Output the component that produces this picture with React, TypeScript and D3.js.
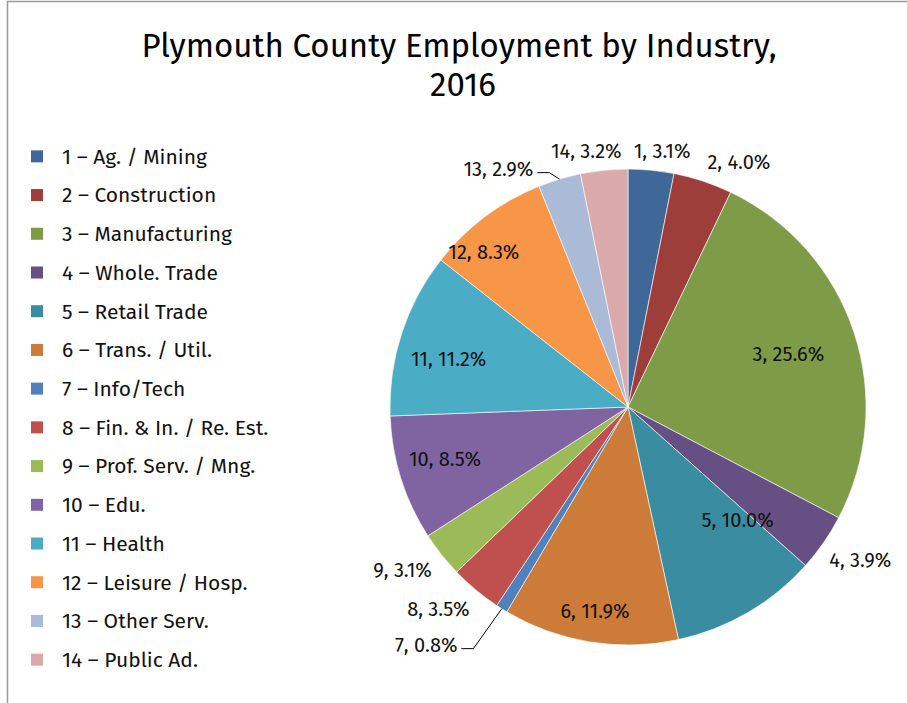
import * as d3 from "d3";
import { useRef, useEffect } from "react";

// industry codes, names and shares (percent)
const codes = ["1", "2", "3", "4", "5", "6", "7", "8", "9", "10", "11", "12", "13", "14"];
const names = [
  "Ag. / Mining",
  "Construction",
  "Manufacturing",
  "Whole. Trade",
  "Retail Trade",
  "Trans. / Util.",
  "Info/Tech",
  "Fin. & In. / Re. Est.",
  "Prof. Serv. / Mng.",
  "Edu.",
  "Health",
  "Leisure / Hosp.",
  "Other Serv.",
  "Public Ad.",
];
const shares = [3.1, 4.0, 25.6, 3.9, 10.0, 11.9, 0.8, 3.5, 3.1, 8.5, 11.2, 8.3, 2.9, 3.2];

const colors = [
  "#3F6797", "#9E3E3B", "#7E9B48", "#664F83", "#3A8CA0", "#CC7B38", "#4F81BD",
  "#C0504D", "#9BBB59", "#8064A2", "#4BACC6", "#F79646", "#AABAD7", "#D9AAA9",
];

// label placement: radius factor and angle shift (deg) off the slice middle
const labelRadius = [1.085, 1.13, 0.71, 1.17, 0.66, 0.87, 1.31, 1.165, 1.17, 0.8, 0.78, 0.89, 1.14, 1.09];
const labelShift = [2, 6, 0, -1.3, -14, 0, 8.3, 3.4, 2.4, 1.5, -3, -6, -11.8, -3.5];
const leaders = ["7", "13"];

const width = 907;
const height = 703;
const cx = 628;
const cy = 407;
const radius = 238;
const font = "'Fira Sans', 'Open Sans', 'Noto Sans', sans-serif";

const App = () => {
  const ref = useRef(null);

  useEffect(() => {
    const svg = d3.select(ref.current);
    svg.selectAll("*").remove();

    // chart frame
    svg.append("rect")
      .attr("x", 7.5).attr("y", 1.5)
      .attr("width", width + 10).attr("height", height + 10)
      .attr("fill", "white").attr("stroke", "#9a9a9a").attr("stroke-width", 1.5);

    // title
    const title = svg.append("text")
      .attr("text-anchor", "middle")
      .attr("font-family", font)
      .attr("font-size", 33)
      .attr("fill", "#000");
    title.append("tspan").attr("x", 459).attr("y", 57).text("Plymouth County Employment by Industry,");
    title.append("tspan").attr("x", 463).attr("y", 96).text("2016");

    // legend
    const y = d3.scaleBand().domain(codes).range([137, 679]);
    const legend = svg.append("g")
      .selectAll("g")
      .data(codes)
      .join("g")
      .attr("transform", (d) => `translate(0,${y(d) + y.bandwidth() / 2})`);
    legend.append("rect")
      .attr("x", 31).attr("y", -6).attr("width", 12).attr("height", 12)
      .attr("fill", (d, i) => colors[i]);
    legend.append("text")
      .attr("x", 62).attr("dy", "0.35em")
      .attr("font-family", font).attr("font-size", 21)
      .attr("fill", "#111")
      .text((d, i) => `${d} \u2013 ${names[i]}`);

    // pie
    const pie = d3.pie().sort(null).value((d) => d);
    const arcs = pie(shares);
    const arc = d3.arc().innerRadius(0).outerRadius(radius);
    const g = svg.append("g").attr("transform", `translate(${cx},${cy})`);
    g.selectAll("path")
      .data(arcs)
      .join("path")
      .attr("d", arc)
      .attr("fill", (d, i) => colors[i])
      .attr("stroke", "white")
      .attr("stroke-width", 0.6);

    // labels
    const pos = (d, i) => {
      const a = (d.startAngle + d.endAngle) / 2 + (labelShift[i] * Math.PI) / 180;
      const r = radius * labelRadius[i];
      return [Math.sin(a) * r, -Math.cos(a) * r];
    };
    const labels = g.selectAll("text.lbl")
      .data(arcs)
      .join("text")
      .attr("class", "lbl")
      .attr("x", (d, i) => pos(d, i)[0])
      .attr("y", (d, i) => pos(d, i)[1])
      .attr("dy", "0.35em")
      .attr("text-anchor", "middle")
      .attr("font-family", font)
      .attr("font-size", 20)
      .attr("fill", "#111")
      .text((d, i) => `${codes[i]}, ${shares[i].toFixed(1)}%`);

    // leader lines for the small slices
    labels.each(function (d, i) {
      if (!leaders.includes(codes[i])) return;
      const a = (d.startAngle + d.endAngle) / 2;
      const px = Math.sin(a) * radius;
      const py = -Math.cos(a) * radius;
      const [lx, ly] = pos(d, i);
      const tx = lx + this.getComputedTextLength() / 2 + 4;
      const yy = ly + 4;
      g.append("path")
        .attr("d", `M${tx},${yy}H${tx + 12}L${px},${py}`)
        .attr("fill", "none")
        .attr("stroke", "#000")
        .attr("stroke-width", 1);
    });
  }, []);

  return (
    <svg ref={ref} width={width} height={height} style={{ position: "absolute", left: 0, top: 0 }} />
  );
};

export default App;
